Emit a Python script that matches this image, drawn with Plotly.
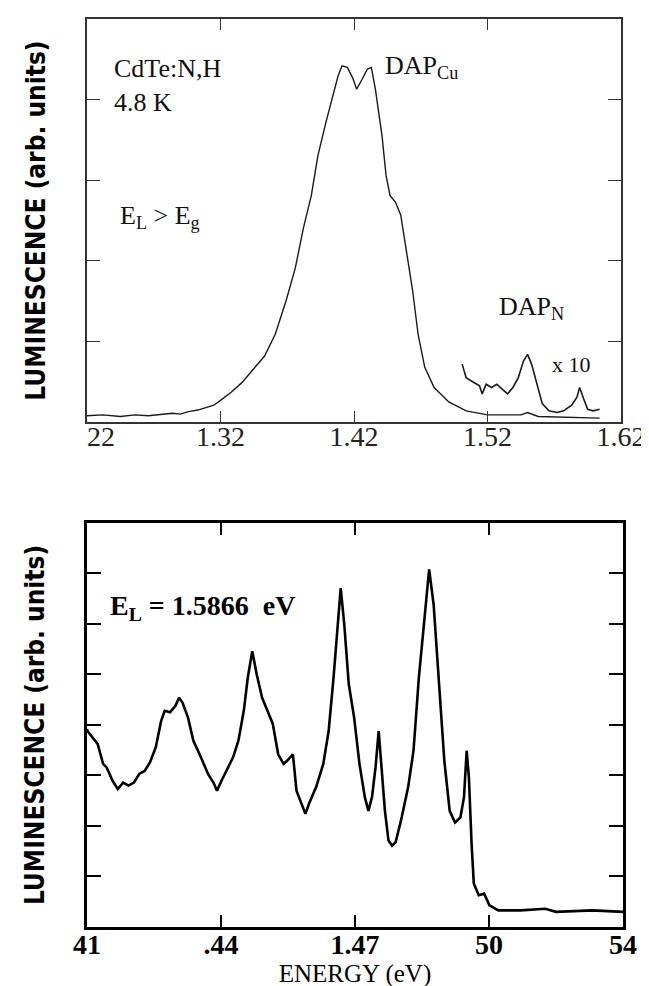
import plotly.graph_objects as go

# ---------------- Top panel data (CdTe:N,H, 4.8 K, E_L > E_g) ----------------
top_energy = [1.220, 1.232, 1.245, 1.256, 1.266, 1.274, 1.284, 1.290, 1.296, 1.303, 1.309,
              1.315, 1.320, 1.328, 1.336, 1.344, 1.353, 1.361, 1.369, 1.376, 1.382,
              1.388, 1.393, 1.399, 1.404, 1.408, 1.411, 1.415, 1.419, 1.422, 1.426,
              1.430, 1.433, 1.436, 1.441, 1.444, 1.447, 1.451, 1.455, 1.459, 1.464,
              1.468, 1.473, 1.480, 1.491, 1.504, 1.520, 1.545, 1.550, 1.558, 1.580, 1.604]
top_lum = [0.08, 0.09, 0.07, 0.09, 0.08, 0.09, 0.11, 0.10, 0.13, 0.15, 0.18,
           0.21, 0.27, 0.37, 0.49, 0.64, 0.82, 1.09, 1.50, 1.91, 2.40,
           2.81, 3.31, 3.72, 4.05, 4.29, 4.42, 4.40, 4.27, 4.13, 4.25,
           4.38, 4.40, 4.13, 3.55, 3.06, 2.81, 2.73, 2.57, 2.16, 1.62,
           1.09, 0.68, 0.43, 0.25, 0.14, 0.09, 0.09, 0.12, 0.07, 0.06, 0.05]

# DAP_N region, magnified x 10
dapn_energy = [1.501, 1.504, 1.507, 1.510, 1.514, 1.516, 1.519, 1.523, 1.527, 1.531,
               1.535, 1.539, 1.543, 1.547, 1.550, 1.553, 1.557, 1.561, 1.566, 1.572,
               1.577, 1.583, 1.587, 1.589, 1.592, 1.595, 1.599, 1.604]
dapn_lum = [0.72, 0.55, 0.52, 0.49, 0.45, 0.35, 0.47, 0.43, 0.47, 0.41,
            0.35, 0.43, 0.55, 0.76, 0.84, 0.72, 0.47, 0.23, 0.14, 0.12,
            0.14, 0.21, 0.31, 0.43, 0.29, 0.16, 0.14, 0.16]

top_tickvals = [1.22, 1.32, 1.42, 1.52, 1.62]
top_ticktext = ["\u00a0\u00a0\u00a0\u00a022", "1.32", "1.42", "1.52", "1.62"]

# ---------------- Bottom panel data (E_L = 1.5866 eV) ----------------
bot_energy = [1.4100, 1.4101, 1.4124, 1.4136, 1.4144, 1.4157, 1.4169, 1.4181, 1.4193, 1.4205,
              1.4217, 1.4229, 1.4241, 1.4254, 1.4266, 1.4274, 1.4286, 1.4298, 1.4306, 1.4314,
              1.4326, 1.4338, 1.4355, 1.4371, 1.4383, 1.4391, 1.4403, 1.4415, 1.4427, 1.4439,
              1.4451, 1.4460, 1.4470, 1.4480, 1.4492, 1.4504, 1.4516, 1.4528, 1.4540, 1.4548,
              1.4561, 1.4569, 1.4581, 1.4589, 1.4597, 1.4613, 1.4629, 1.4641, 1.4652, 1.4660,
              1.4668, 1.4676, 1.4686, 1.4698, 1.4710, 1.4722, 1.4730, 1.4738, 1.4746, 1.4753,
              1.4759, 1.4767, 1.4775, 1.4783, 1.4791, 1.4803, 1.4819, 1.4831, 1.4843, 1.4855,
              1.4866, 1.4876, 1.4888, 1.4900, 1.4912, 1.4924, 1.4936, 1.4944, 1.4950, 1.4955,
              1.4961, 1.4966, 1.4977, 1.4989, 1.5001, 1.5021, 1.5070, 1.5126, 1.5150, 1.5231,
              1.5300]
bot_lum = [3.92, 3.88, 3.62, 3.23, 3.16, 2.90, 2.73, 2.86, 2.80, 2.86,
           3.03, 3.09, 3.26, 3.56, 4.08, 4.28, 4.25, 4.38, 4.54, 4.44,
           4.15, 3.69, 3.36, 3.03, 2.86, 2.70, 2.93, 3.16, 3.36, 3.69,
           4.28, 4.94, 5.46, 5.00, 4.54, 4.28, 4.02, 3.42, 3.23, 3.29,
           3.42, 2.70, 2.40, 2.24, 2.44, 2.77, 3.23, 3.88, 4.94, 5.92,
           6.71, 5.99, 4.81, 4.15, 3.23, 2.57, 2.30, 2.57, 3.16, 3.88,
           3.23, 2.30, 1.71, 1.61, 1.68, 2.11, 2.77, 3.49, 4.94, 6.12,
           7.08, 6.39, 4.81, 3.29, 2.30, 2.07, 2.17, 2.57, 3.49, 2.96,
           1.65, 0.86, 0.63, 0.66, 0.43, 0.33, 0.33, 0.36, 0.30, 0.33,
           0.30]

bot_tickvals = [1.41, 1.44, 1.47, 1.50, 1.53]
bot_ticktext = ["41", ".44", "1.47", "50", "54"]

SERIF = "Liberation Serif, Times New Roman, serif"
NARROW = "DejaVu Sans Condensed, Liberation Sans Narrow, Arial Narrow, sans-serif"

fig = go.Figure()
fig.add_trace(go.Scatter(x=top_energy, y=top_lum, mode="lines",
                         line=dict(color="#1a1a1a", width=1.4), xaxis="x", yaxis="y",
                         showlegend=False))
fig.add_trace(go.Scatter(x=dapn_energy, y=dapn_lum, mode="lines",
                         line=dict(color="#1a1a1a", width=1.6), xaxis="x", yaxis="y",
                         showlegend=False))
fig.add_trace(go.Scatter(x=bot_energy, y=bot_lum, mode="lines",
                         line=dict(color="black", width=2.6), xaxis="x2", yaxis="y2",
                         showlegend=False))

top_ax = dict(showgrid=False, zeroline=False, showline=True, mirror="ticks",
              linecolor="#333333", linewidth=1.5, ticks="inside", tickcolor="#333333",
              tickwidth=1.3)
bot_ax = dict(showgrid=False, zeroline=False, showline=True, mirror="ticks",
              linecolor="black", linewidth=2.8, ticks="inside", tickcolor="black",
              tickwidth=2.2)

fig.update_layout(
    width=649, height=986,
    margin=dict(l=79, r=31, t=9, b=67),
    paper_bgcolor="white", plot_bgcolor="white",
    xaxis=dict(domain=[0, 0.9963], range=[1.22, 1.62], anchor="y",
               tickmode="array", tickvals=top_tickvals, ticktext=top_ticktext,
               ticklen=11, ticklabelstandoff=-12,
               tickfont=dict(family=SERIF, size=28, color="#222222"),
               **top_ax),
    yaxis=dict(domain=[0.556, 1.0], range=[0, 5], anchor="x",
               tickmode="array", tickvals=[1, 2, 3, 4], showticklabels=False,
               ticklen=13,
               title=dict(text="LUMINESCENCE (arb. units)", standoff=32,
                          font=dict(family=NARROW, size=26, color="black", weight="bold")),
               **top_ax),
    xaxis2=dict(domain=[0, 1.0], range=[1.41, 1.53], anchor="y2",
                tickmode="array", tickvals=bot_tickvals, ticktext=bot_ticktext,
                ticklen=12, ticklabelstandoff=-10,
                tickfont=dict(family=SERIF, size=28, color="black", weight="bold"),
                title=dict(text="ENERGY (eV)", standoff=0,
                           font=dict(family=SERIF, size=25, color="black")),
                **bot_ax),
    yaxis2=dict(domain=[0, 0.445], range=[0, 8], anchor="x2",
                tickmode="array", tickvals=[1, 2, 3, 4, 5, 6, 7], showticklabels=False,
                ticklen=14,
                title=dict(text="LUMINESCENCE (arb. units)", standoff=32,
                           font=dict(family=NARROW, size=26, color="black", weight="bold")),
                **bot_ax),
)

ann_font = dict(family=SERIF, size=26, color="#111111")
annotations = [
    dict(x=1.239, y=4.38, text="CdTe:N,H", xref="x", yref="y"),
    dict(x=1.239, y=3.97, text="4.8 K", xref="x", yref="y"),
    dict(x=1.243, y=2.55, text="E<sub>L</sub> > E<sub>g</sub>", xref="x", yref="y"),
    dict(x=1.442, y=4.40, text="DAP<sub>Cu</sub>", xref="x", yref="y"),
    dict(x=1.527, y=1.42, text="DAP<sub>N</sub>", xref="x", yref="y"),
    dict(x=1.567, y=0.72, text="x 10", xref="x", yref="y", font=dict(family=SERIF, size=22, color="#111111")),
]
for a in annotations:
    a.setdefault("font", ann_font)
    fig.add_annotation(showarrow=False, xanchor="left", yanchor="middle", **a)

fig.add_annotation(x=1.4148, y=6.32, xref="x2", yref="y2", showarrow=False,
                   xanchor="left", yanchor="middle",
                   text="E<sub>L</sub> = 1.5866  eV",
                   font=dict(family=SERIF, size=28, color="black", weight="bold"))

fig.write_html("out.html")
